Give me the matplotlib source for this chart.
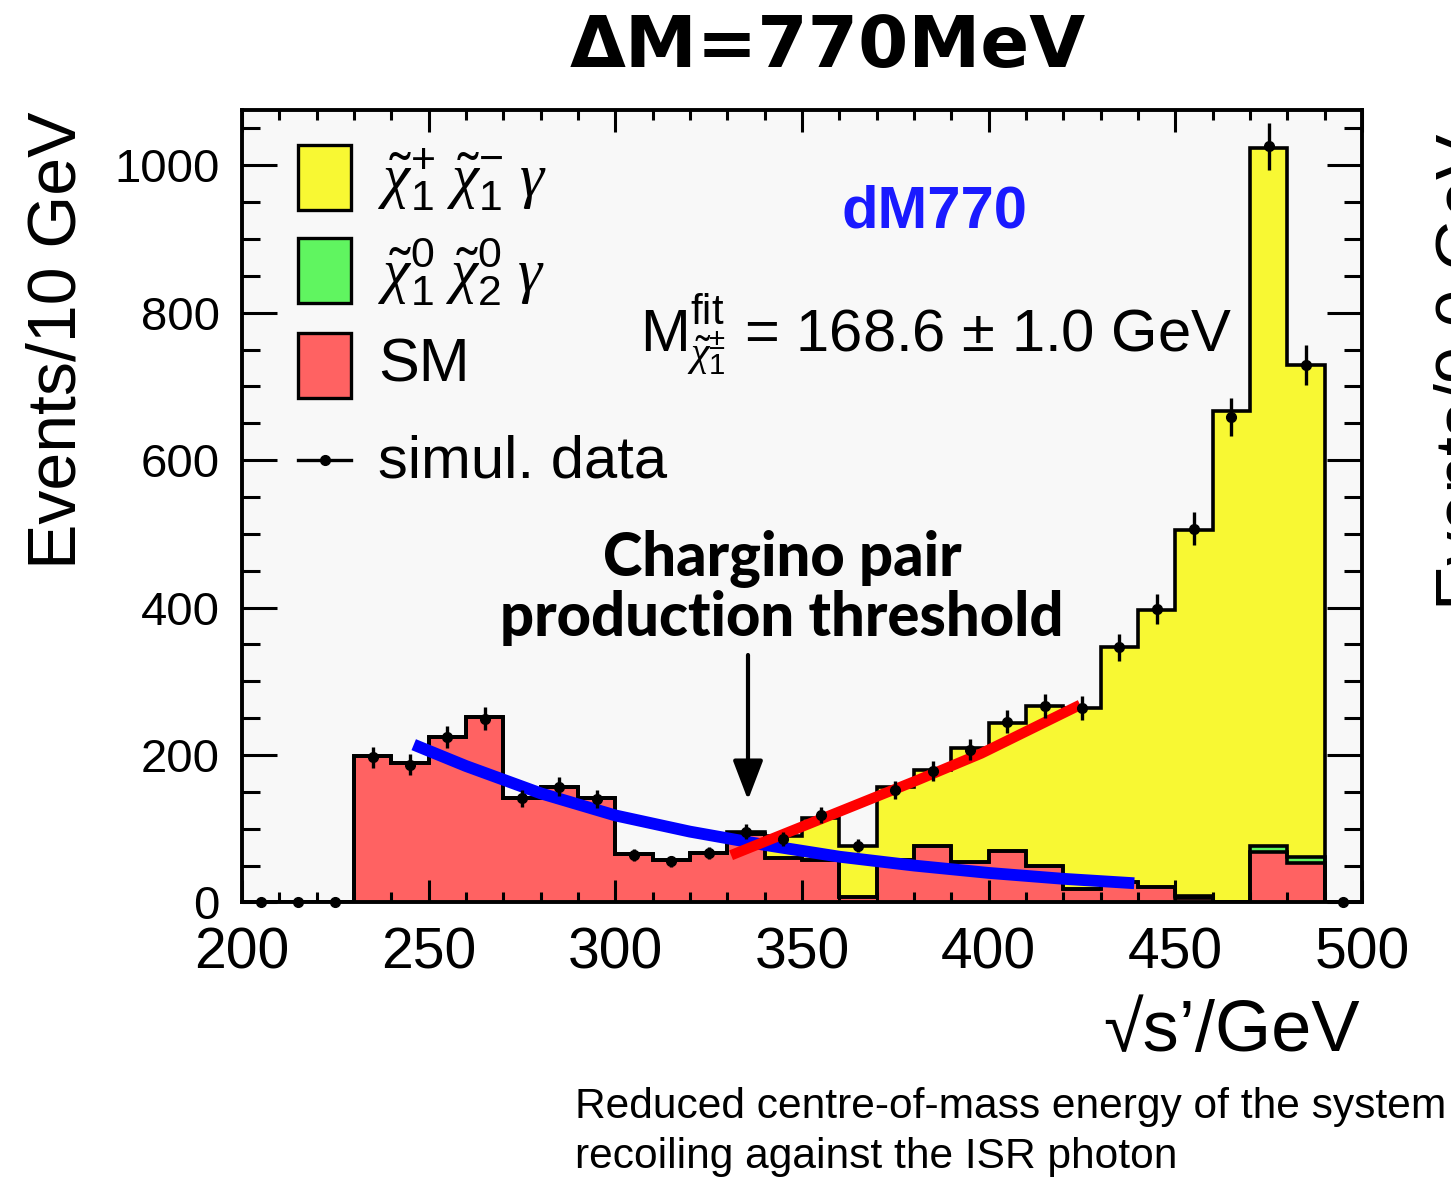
import numpy as np
import matplotlib
matplotlib.use("Agg")
import matplotlib.pyplot as plt
from matplotlib.patches import Rectangle
from matplotlib.lines import Line2D
from matplotlib.ticker import MultipleLocator

plt.rcParams['font.family'] = ['Liberation Sans', 'DejaVu Sans']
plt.rcParams['mathtext.fontset'] = 'custom'
plt.rcParams['mathtext.rm'] = 'Liberation Sans'
plt.rcParams['mathtext.it'] = 'Liberation Serif:italic'
plt.rcParams['mathtext.bf'] = 'Liberation Sans:bold'

# ---------------- data ----------------
bin_edges = np.arange(200, 501, 10)
sm_counts = [0, 0, 0, 198, 189, 225, 252, 141, 157, 141, 65, 58, 67, 93,
             60, 57, 8, 58, 77, 55, 70, 49, 18, 28, 21, 6, 0, 68, 54, 0]
neutralino_counts = [0, 0, 0, 0, 0, 0, 0, 0, 0, 0, 0, 0, 0, 0,
                     0, 0, 0, 0, 0, 0, 0, 0, 0, 0, 0, 3, 0, 9, 8, 0]
chargino_counts = [0, 0, 0, 0, 0, 0, 0, 0, 0, 0, 0, 0, 0, 2,
                   30, 57, 68, 99, 103, 155, 174, 217, 246, 318, 376, 496, 666, 947, 667, 0]
data_x = [205, 215, 225, 235, 245, 255, 265, 275, 285, 295, 305, 315, 325, 335, 345,
          355, 365, 375, 385, 395, 405, 415, 425, 435, 445, 455, 465, 475, 485, 495]
data_y = [0, 0, 0, 197, 187, 224, 249, 141, 157, 140, 64, 56, 67, 96, 86,
          119, 77, 152, 178, 207, 245, 267, 264, 346, 398, 507, 658, 1026, 729, 0]
bkg_fit_x = [246, 260, 280, 300, 320, 340, 360, 380, 400, 420, 439]
bkg_fit_y = [214, 185, 148, 118, 96, 78, 62, 50, 40, 32, 26]
sig_fit_x = [331, 356, 381, 398, 424.5]
sig_fit_y = [64, 115, 166, 202, 268]
x_ticks = [200, 250, 300, 350, 400, 450, 500]
y_ticks = [0, 200, 400, 600, 800, 1000]

# ---------------- figure ----------------
W, H = 1451, 1177
fig = plt.figure(figsize=(W / 100, H / 100), dpi=100)
L, R, T, B = 242, 1362, 110, 902.4
ax = fig.add_axes([L / W, 1 - B / H, (R - L) / W, (B - T) / H])
ax.set_facecolor('#f8f8f8')

def axfrac(px, py):
    return ((px - L) / (R - L), (B - py) / (B - T))

sm = np.array(sm_counts, float)
neu = np.array(neutralino_counts, float)
cha = np.array(chargino_counts, float)
lvl_top = sm + neu + cha
lvl_mid = sm + neu

for vals, col in [(lvl_top, '#f8f833'), (lvl_mid, '#60f560'), (sm, '#ff6262')]:
    ax.stairs(vals, bin_edges, fill=True, color=col, zorder=1)
    ax.stairs(vals, bin_edges, fill=False, baseline=0, color='black', lw=2.6, zorder=1.2)

ax.plot(bkg_fit_x, bkg_fit_y, color='#0000ff', lw=8.5, solid_capstyle='butt', zorder=3)
ax.plot(sig_fit_x, sig_fit_y, color='#ff0000', lw=7.5, solid_capstyle='butt', zorder=3)

dy = np.sqrt(np.array(data_y, float))
ax.errorbar(data_x, data_y, yerr=dy, fmt='o', color='black', ms=7, elinewidth=2.4,
            capsize=0, zorder=4, clip_on=False)

ax.set_xlim(200, 500)
ax.set_ylim(0, 1075)
ax.set_xticks(x_ticks)
ax.set_yticks(y_ticks)
ax.xaxis.set_minor_locator(MultipleLocator(10))
ax.yaxis.set_minor_locator(MultipleLocator(50))
ax.tick_params(axis='both', which='both', direction='in', top=True, right=True, width=2.2)
ax.tick_params(axis='x', which='major', length=16, labelsize=41, pad=17)
ax.tick_params(axis='x', which='minor', length=7.5)
ax.tick_params(axis='y', which='major', length=25, labelsize=34, pad=16)
ax.tick_params(axis='y', which='minor', length=13)
for s in ax.spines.values():
    s.set_linewidth(2.8)

# legend (manual)
box_x0, _ = axfrac(298, 0)
box_x1, _ = axfrac(351, 0)
txt_x, _ = axfrac(378, 0)
leg = [('#f8f833', 145, 210, r'$\tilde{\chi}^{+}_{1}\ \tilde{\chi}^{-}_{1}\ \gamma$', 180),
       ('#60f560', 238, 303, r'$\tilde{\chi}^{0}_{1}\ \tilde{\chi}^{0}_{2}\ \gamma$', 272),
       ('#ff6262', 333, 398, 'SM', 366)]
for col, ytop, ybot, lab, yc in leg:
    _, y0 = axfrac(0, ybot)
    _, y1 = axfrac(0, ytop)
    ax.add_patch(Rectangle((box_x0, y0), box_x1 - box_x0, y1 - y0, transform=ax.transAxes,
                           facecolor=col, edgecolor='black', lw=2.4, zorder=5))
    ax.text(txt_x, axfrac(0, yc)[1], lab, transform=ax.transAxes, fontsize=44,
            va='center', ha='left', zorder=5)
_, yl = axfrac(0, 460)
ax.add_line(Line2D([box_x0, box_x1], [yl, yl], transform=ax.transAxes, color='black', lw=2.4, zorder=5))
ax.add_line(Line2D([(box_x0 + box_x1) / 2], [yl], transform=ax.transAxes, color='black',
                   marker='o', ms=7, zorder=5))
ax.text(txt_x, axfrac(0, 462)[1], 'simul. data', transform=ax.transAxes, fontsize=43,
        va='center', ha='left', zorder=5)

# annotations
ax.text(*axfrac(935, 212), 'dM770', transform=ax.transAxes, fontsize=43, fontweight='bold',
        color='#1a1aff', ha='center', va='center')
ax.text(*axfrac(640, 352), r'$\mathrm{M}^{\mathrm{fit}}_{\tilde{\chi}^{\pm}_{1}}$ = 168.6 ± 1.0 GeV',
        transform=ax.transAxes, fontsize=43, ha='left', va='baseline')
ax.text(*axfrac(782, 588), 'Chargino pair\nproduction threshold', transform=ax.transAxes,
        fontsize=43, fontfamily='Lato', fontweight='black', ha='center', va='center',
        linespacing=1.05, multialignment='center')
ax.annotate('', xy=axfrac(748, 800), xytext=axfrac(748, 655), xycoords='axes fraction',
            textcoords='axes fraction',
            arrowprops=dict(arrowstyle='-|>,head_length=1.1,head_width=0.42', color='black',
                            lw=3, mutation_scale=22, shrinkA=0, shrinkB=0))

# titles and labels
fig.text(828 / W, 1 - 48 / H, 'ΔM=770MeV', fontfamily='DejaVu Sans', fontweight='bold',
         fontsize=52, ha='center', va='center')
fig.text(58 / W, 1 - 340 / H, 'Events/10 GeV', rotation=90, fontsize=49, ha='center', va='center')
fig.text(1360 / W, 1 - 1032 / H, '√s’/GeV', fontsize=52, ha='right', va='center')
fig.text(575 / W, 1 - 1107 / H, 'Reduced centre-of-mass energy of the system', fontsize=30.6,
         ha='left', va='center')
fig.text(575 / W, 1 - 1157 / H, 'recoiling against the ISR photon', fontsize=30.6,
         ha='left', va='center')
fig.text(1433 / W, 1 - 610 / H, 'Events/9.0 GeV', rotation=90, fontsize=49, ha='left', va='bottom')

fig.savefig('out.png', dpi=100, facecolor='white')
